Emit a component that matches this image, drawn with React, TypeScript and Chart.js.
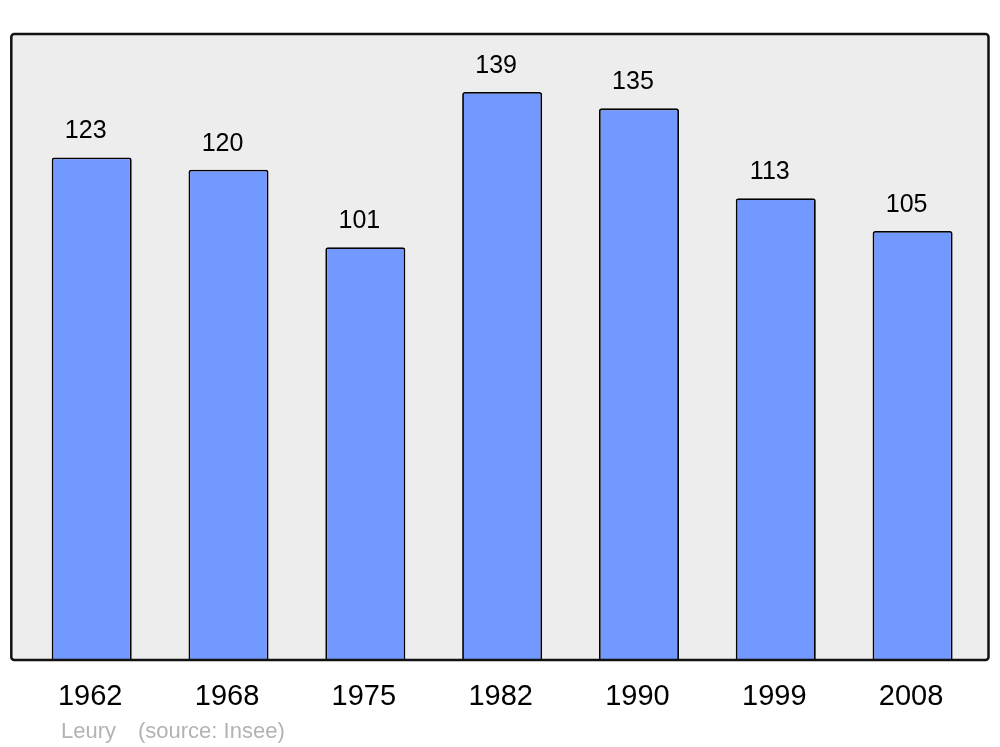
import React, { useEffect, useRef } from "react";
import { Chart, registerables } from "chart.js";

Chart.register(...registerables);

const years = ["1962", "1968", "1975", "1982", "1990", "1999", "2008"];
const population = [123, 120, 101, 139, 135, 113, 105];
const footerPlace = "Leury";
const footerSource = "(source: Insee)";

const FONT = "'Liberation Sans', Arial, sans-serif";

const framePlugin = {
  id: "frame",
  beforeDatasetsDraw(chart: any) {
    const { ctx, chartArea } = chart;
    const l = chartArea.left - 12;
    const r = chartArea.right + 7.5;
    ctx.save();
    ctx.fillStyle = "#ededed";
    ctx.beginPath();
    ctx.roundRect(l, chartArea.top, r - l, chartArea.bottom - chartArea.top, 3);
    ctx.fill();
    ctx.restore();
  },
  afterDatasetsDraw(chart: any) {
    const { ctx, chartArea } = chart;
    const l = chartArea.left - 12;
    const r = chartArea.right + 7.5;
    ctx.save();
    ctx.strokeStyle = "#111111";
    ctx.lineWidth = 2.5;
    ctx.beginPath();
    ctx.roundRect(l, chartArea.top, r - l, chartArea.bottom - chartArea.top, 3);
    ctx.stroke();

    // value labels
    const meta = chart.getDatasetMeta(0);
    ctx.fillStyle = "#000000";
    ctx.font = `25px ${FONT}`;
    ctx.textAlign = "center";
    ctx.textBaseline = "alphabetic";
    meta.data.forEach((bar: any, i: number) => {
      ctx.fillText(String(population[i]), bar.x - 6, bar.y - 19);
    });

    // footer
    ctx.fillStyle = "#b3b3b3";
    ctx.font = `22px ${FONT}`;
    ctx.textAlign = "left";
    ctx.fillText(footerPlace, 61, 738);
    ctx.fillText(footerSource, 138, 738);
    ctx.restore();
  },
};

export default function App() {
  const ref = useRef<HTMLCanvasElement | null>(null);
  useEffect(() => {
    if (!ref.current) return;
    const chart = new Chart(ref.current, {
      type: "bar",
      data: {
        labels: years,
        datasets: [
          {
            data: population,
            backgroundColor: "#7299ff",
            borderColor: "#000000",
            borderWidth: 1.8,
            borderRadius: 2.5,
            borderSkipped: "start",
            barPercentage: 0.585,
            categoryPercentage: 1,
          },
        ],
      },
      options: {
        responsive: false,
        animation: false,
        layout: { padding: { left: 23.3, right: 19, top: 34, bottom: 0 } },
        plugins: {
          legend: { display: false },
          tooltip: { enabled: false },
          title: { display: false },
        },
        scales: {
          x: {
            grid: { display: false, drawTicks: false },
            border: { display: false },
            ticks: {
              color: "#000000",
              font: { family: FONT, size: 29 },
              padding: 20,
              labelOffset: -1.5,
            },
            afterFit(scale: any) {
              scale.height = 87;
            },
          },
          y: {
            display: false,
            min: 0,
            max: 153.2,
          },
        },
      },
      plugins: [framePlugin],
    });
    return () => chart.destroy();
  }, []);
  return (
    <div style={{ position: "absolute", left: 0, top: 0, width: 1000, height: 747, background: "#ffffff" }}>
      <canvas ref={ref} width={1000} height={747} style={{ display: "block" }} />
    </div>
  );
}
